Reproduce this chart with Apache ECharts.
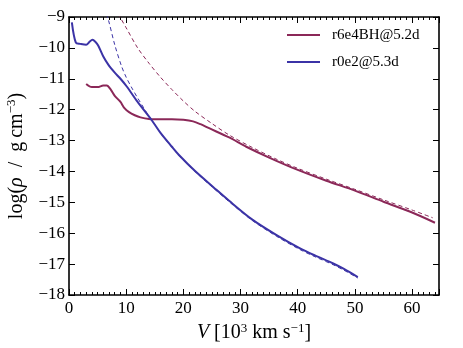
<!DOCTYPE html>
<html>
<head>
<meta charset="utf-8">
<script src="https://cdn.jsdelivr.net/npm/echarts@6/dist/echarts.min.js"></script>
<style>
  html, body { margin: 0; padding: 0; background: #fff; }
  #chart { width: 463px; height: 348px; }
</style>
</head>
<body>
<div id="chart"></div>
<script>
// values, [V (10^3 km/s), log rho]
const r6e4Solid = [
  [3.0, -11.17], [4.0, -11.27], [5.0, -11.27], [6.0, -11.22], [6.6, -11.22],
  [7.3, -11.35], [8.0, -11.55], [9.0, -11.75], [9.7, -11.95], [10.5, -12.08],
  [11.5, -12.18], [12.5, -12.25], [14.0, -12.3], [16.0, -12.31], [18.0, -12.31],
  [20.0, -12.33], [21.7, -12.38], [23.0, -12.47], [24.5, -12.6], [28.0, -12.9],
  [31.0, -13.2], [35.0, -13.55], [40.0, -13.95], [45.0, -14.3], [50.0, -14.62],
  [55.0, -14.98], [60.0, -15.33], [64.0, -15.66]
]
const r6e4Dashed = [
  [8.6, -8.9], [10.0, -9.35], [12.0, -10.0], [14.0, -10.5], [16.0, -10.95],
  [18.0, -11.35], [20.0, -11.72], [22.0, -12.05], [25.0, -12.45], [28.0, -12.82],
  [32.0, -13.22], [36.0, -13.58], [40.0, -13.9], [45.0, -14.25], [50.0, -14.58],
  [55.0, -14.92], [60.0, -15.25], [63.6, -15.5]
]
const r0e2Solid = [
  [0.5, -9.17], [1.2, -9.83], [2.0, -9.87], [3.0, -9.9], [3.6, -9.8],
  [4.1, -9.74], [4.6, -9.8], [5.1, -9.92], [6.0, -10.28], [6.9, -10.55],
  [8.0, -10.8], [9.0, -11.0], [10.1, -11.25], [12.0, -11.75], [14.5, -12.35],
  [16.0, -12.75], [18.0, -13.2], [19.4, -13.5], [22.0, -13.98], [25.2, -14.5],
  [28.0, -14.95], [32.0, -15.55], [36.3, -16.06], [40.4, -16.49], [43.0, -16.72],
  [46.2, -16.98], [48.0, -17.15], [50.5, -17.42]
]
const r0e2Dashed = [
  [6.5, -8.9], [6.9, -9.1], [8.0, -9.9], [9.2, -10.6], [10.0, -10.95],
  [11.0, -11.3], [12.0, -11.62], [13.0, -11.92], [14.0, -12.22], [15.0, -12.48],
  [16.0, -12.76], [18.0, -13.22], [19.4, -13.52], [22.0, -14.0], [25.2, -14.53],
  [28.0, -14.98], [32.0, -15.58], [36.3, -16.1], [40.4, -16.53], [43.0, -16.76],
  [46.2, -17.02], [48.0, -17.19], [50.5, -17.45]
]
const xTicks = [0, 10, 20, 30, 40, 50, 60]
const yTicks = [-18, -17, -16, -15, -14, -13, -12, -11, -10, -9]

const red = '#8b2858'
const blue = '#3b33a6'
const font = 'Liberation Serif'

const minus = v => (v < 0 ? '\u2212' + Math.abs(v) : String(v))

const chart = echarts.init(document.getElementById('chart'), null, { renderer: 'canvas' })

const frame = { show: true, onZero: false, lineStyle: { color: '#000', width: 1.6 } }
const nameStyle = {
  color: '#000', fontSize: 20, fontFamily: font, lineHeight: 22,
  rich: {
    it: { fontStyle: 'italic', fontSize: 20, fontFamily: font, lineHeight: 22 },
    sup: { fontSize: 13, fontFamily: font, lineHeight: 13, verticalAlign: 'top' }
  }
}

chart.setOption({
  backgroundColor: '#fff',
  animation: false,
  textStyle: { fontFamily: font },
  grid: { left: 69, right: 24, top: 17, bottom: 53, outerBoundsMode: 'none' },
  legend: {
    orient: 'vertical',
    left: 287,
    top: 27,
    padding: 0,
    icon: 'rect',
    itemWidth: 33,
    itemHeight: 2,
    itemGap: 11,
    data: ['r6e4BH@5.2d', 'r0e2@5.3d'],
    textStyle: { fontFamily: font, fontSize: 15, lineHeight: 16, color: '#000', padding: [0, 0, 0, 7] }
  },
  xAxis: [{
    type: 'value',
    min: 0,
    max: 64.7,
    interval: 10,
    axisLine: frame,
    axisTick: { inside: true, length: 6, lineStyle: { color: '#000' } },
    minorTick: { show: true, splitNumber: 10, length: 3, lineStyle: { color: '#000' } },
    splitLine: { show: false },
    axisLabel: {
      color: '#000', fontSize: 17, fontFamily: font, margin: 5, showMaxLabel: false,
      formatter: v => (xTicks.includes(v) ? minus(v) : '')
    },
    name: '{it|V} [10{sup|3} km s{sup|\u22121}]',
    nameLocation: 'middle',
    nameGap: 19,
    nameTextStyle: nameStyle
  }, {
    type: 'value',
    position: 'top',
    min: 0,
    max: 64.7,
    interval: 10,
    axisLine: frame,
    axisTick: { inside: true, length: 6, lineStyle: { color: '#000' } },
    minorTick: { show: true, splitNumber: 10, length: 3, lineStyle: { color: '#000' } },
    splitLine: { show: false },
    axisLabel: { show: false }
  }],
  yAxis: [{
    type: 'value',
    min: -18,
    max: -9,
    interval: 1,
    axisLine: frame,
    axisTick: { inside: true, length: 6, lineStyle: { color: '#000' } },
    splitLine: { show: false },
    axisLabel: {
      color: '#000', fontSize: 17, fontFamily: font, margin: 4,
      formatter: v => (yTicks.includes(v) ? minus(v) : '')
    },
    name: 'log({it|\u03c1}\u2002/\u2002g\u2009cm{sup|\u22123})',
    nameLocation: 'middle',
    nameRotate: 90,
    nameGap: 39,
    nameTextStyle: nameStyle
  }, {
    type: 'value',
    position: 'right',
    min: -18,
    max: -9,
    interval: 1,
    axisLine: frame,
    axisTick: { inside: true, length: 6, lineStyle: { color: '#000' } },
    splitLine: { show: false },
    axisLabel: { show: false }
  }],
  series: [
    {
      name: 'r6e4BH dashed', type: 'line', data: r6e4Dashed, symbol: 'none', smooth: 0.3, clip: true,
      lineStyle: { color: red, width: 1, type: [4, 3] }, itemStyle: { color: red }, z: 2
    },
    {
      name: 'r0e2 dashed', type: 'line', data: r0e2Dashed, symbol: 'none', smooth: 0.3, clip: true,
      lineStyle: { color: blue, width: 1, type: [4, 3] }, itemStyle: { color: blue }, z: 2
    },
    {
      name: 'r6e4BH@5.2d', type: 'line', data: r6e4Solid, symbol: 'none', smooth: 0.3, clip: true,
      lineStyle: { color: red, width: 2 }, itemStyle: { color: red }, z: 3
    },
    {
      name: 'r0e2@5.3d', type: 'line', data: r0e2Solid, symbol: 'none', smooth: 0.3, clip: true,
      lineStyle: { color: blue, width: 2 }, itemStyle: { color: blue }, z: 3
    }
  ]
})
</script>
</body>
</html>
